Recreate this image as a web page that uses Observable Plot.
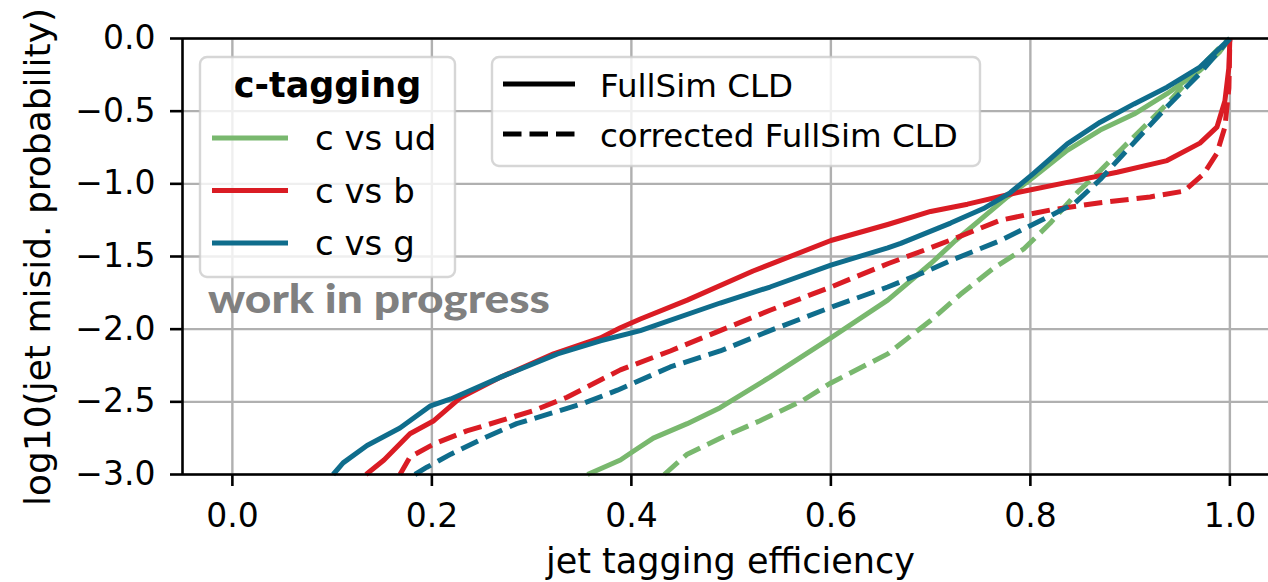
<!DOCTYPE html>
<html>
<head>
<meta charset="utf-8">
<script src="https://cdn.jsdelivr.net/npm/d3@7"></script>
<script src="https://cdn.jsdelivr.net/npm/@observablehq/plot@0.6"></script>
<style>
  body { margin: 0; background: #fff; }
  #chart { width: 1268px; height: 582px; overflow: hidden; }
</style>
</head>
<body>
<div id="chart"></div>
<script>
// ROC curves for c-tagging: efficiency vs log10 of mis-identification probability

const xTicks = [0.0, 0.2, 0.4, 0.6, 0.8, 1.0];
const yTicks = [0.0, -0.5, -1.0, -1.5, -2.0, -2.5, -3.0];

// c vs ud
const effUdFull = [0.356, 0.389, 0.402, 0.422, 0.456, 0.489, 0.539, 0.600, 0.657, 0.700, 0.725, 0.777, 0.803, 0.837, 0.870, 0.904, 0.937, 0.970, 0.990, 1.0];
const misUdFull = [-3.0, -2.90, -2.84, -2.75, -2.65, -2.54, -2.33, -2.06, -1.80, -1.55, -1.39, -1.09, -0.955, -0.77, -0.63, -0.52, -0.38, -0.22, -0.09, 0.0];
const effUdCorr = [0.433, 0.456, 0.489, 0.529, 0.572, 0.600, 0.657, 0.700, 0.730, 0.763, 0.793, 0.820, 0.847, 0.870, 0.890, 0.937, 0.970, 0.990, 1.0];
const misUdCorr = [-3.0, -2.86, -2.75, -2.63, -2.49, -2.37, -2.17, -1.94, -1.76, -1.58, -1.45, -1.27, -1.06, -0.91, -0.77, -0.45, -0.20, -0.06, 0.0];

// c vs b
const effBFull = [0.134, 0.152, 0.178, 0.202, 0.229, 0.269, 0.322, 0.369, 0.389, 0.409, 0.456, 0.522, 0.600, 0.657, 0.700, 0.737, 0.787, 0.837, 0.887, 0.937, 0.970, 0.987, 0.995, 0.999, 1.0];
const misBFull = [-3.0, -2.90, -2.72, -2.63, -2.47, -2.33, -2.17, -2.06, -1.99, -1.93, -1.80, -1.60, -1.39, -1.28, -1.19, -1.14, -1.06, -0.99, -0.92, -0.84, -0.72, -0.61, -0.43, -0.20, 0.0];
const effBCorr = [0.168, 0.178, 0.202, 0.235, 0.269, 0.302, 0.335, 0.369, 0.389, 0.439, 0.489, 0.539, 0.600, 0.657, 0.700, 0.730, 0.770, 0.820, 0.870, 0.920, 0.954, 0.974, 0.987, 0.995, 0.999, 1.0];
const misBCorr = [-3.0, -2.88, -2.79, -2.70, -2.63, -2.56, -2.47, -2.35, -2.28, -2.15, -2.01, -1.87, -1.71, -1.55, -1.44, -1.36, -1.25, -1.18, -1.13, -1.09, -1.05, -0.93, -0.79, -0.61, -0.34, 0.0];

// c vs g
const effGFull = [0.101, 0.111, 0.135, 0.168, 0.198, 0.219, 0.269, 0.326, 0.369, 0.409, 0.489, 0.539, 0.600, 0.657, 0.670, 0.720, 0.753, 0.780, 0.803, 0.837, 0.870, 0.904, 0.937, 0.970, 1.0];
const misGFull = [-3.0, -2.92, -2.80, -2.68, -2.53, -2.48, -2.33, -2.17, -2.08, -2.01, -1.82, -1.71, -1.56, -1.44, -1.41, -1.27, -1.17, -1.06, -0.93, -0.725, -0.576, -0.45, -0.335, -0.197, 0.0];
const effGCorr = [0.183, 0.195, 0.219, 0.252, 0.285, 0.319, 0.352, 0.386, 0.439, 0.489, 0.539, 0.600, 0.657, 0.700, 0.723, 0.770, 0.820, 0.845, 0.870, 0.902, 0.937, 0.970, 0.990, 1.0];
const misGCorr = [-3.0, -2.95, -2.86, -2.75, -2.65, -2.58, -2.51, -2.42, -2.26, -2.15, -2.01, -1.85, -1.71, -1.59, -1.52, -1.39, -1.22, -1.13, -0.97, -0.73, -0.47, -0.24, -0.08, 0.0];

const series = [
  {name: "c vs ud", color: "#79b86e", full: [effUdFull, misUdFull], corr: [effUdCorr, misUdCorr]},
  {name: "c vs b",  color: "#da1c24", full: [effBFull, misBFull],   corr: [effBCorr, misBCorr]},
  {name: "c vs g",  color: "#0f6d8c", full: [effGFull, misGFull],   corr: [effGCorr, misGCorr]}
];

const samples = [
  {name: "FullSim CLD", dash: null},
  {name: "corrected FullSim CLD", dash: "18.5,8"}
];

const rows = ([xs, ys]) => xs.map((x, i) => ({x, y: ys[i]}));

const LW = 5;
const curveMarks = series.flatMap(s => [
  Plot.line(rows(s.full), {x: "x", y: "y", stroke: s.color, strokeWidth: LW, strokeLinejoin: "round", strokeLinecap: "butt"}),
  Plot.line(rows(s.corr), {x: "x", y: "y", stroke: s.color, strokeWidth: LW, strokeLinejoin: "round", strokeLinecap: "butt", strokeDasharray: samples[1].dash})
]);

const fmt = d3.format(".1f");
const gridStyle = {stroke: "#b0b0b0", strokeOpacity: 1, strokeWidth: 2.4};

const plot = Plot.plot({
  width: 1268,
  height: 582,
  marginLeft: 182,
  marginRight: 0,
  marginTop: 38,
  marginBottom: 108,
  style: {fontFamily: "DejaVu Sans", background: "white", color: "black"},
  x: {domain: [-0.05, 1.05], range: [182, 1279.25]},
  y: {domain: [-3, 0], range: [474, 38]},
  marks: [
    Plot.gridX(xTicks, gridStyle),
    Plot.gridY(yTicks, gridStyle),
    ...curveMarks,
    Plot.ruleX([-0.05], {stroke: "black", strokeWidth: 2.6}),
    Plot.ruleY([0, -3], {stroke: "black", strokeWidth: 2.6}),
    Plot.axisX(xTicks, {tickSize: 12, tickPadding: 17, tickFormat: fmt, fontSize: 33, strokeWidth: 2.6, label: null}),
    Plot.axisY(yTicks, {tickSize: 12, tickPadding: 15, tickFormat: fmt, fontSize: 33, strokeWidth: 2.6, label: null})
  ]
});

document.getElementById("chart").appendChild(plot);

const svg = d3.select(plot);
const font = "DejaVu Sans";

// axis titles
svg.append("text")
  .attr("x", 730.5).attr("y", 573)
  .attr("text-anchor", "middle")
  .attr("font-family", font).attr("font-size", 35).attr("fill", "black")
  .text("jet tagging efficiency");

svg.append("text")
  .attr("transform", "translate(50,257) rotate(-90)")
  .attr("text-anchor", "middle")
  .attr("font-family", font).attr("font-size", 36).attr("fill", "black")
  .text("log10(jet misid. probability)");

// watermark
svg.append("text")
  .attr("x", 208).attr("y", 313)
  .attr("text-anchor", "start")
  .attr("font-family", "Lato").attr("font-weight", 900).attr("font-size", 40)
  .attr("fill", "#808080")
  .attr("textLength", 342).attr("lengthAdjust", "spacingAndGlyphs")
  .text("work in progress");

// legend: flavour colours
const lg1 = svg.append("g").attr("text-anchor", "start");
lg1.append("rect")
  .attr("x", 200).attr("y", 57).attr("width", 255).attr("height", 220)
  .attr("rx", 7).attr("fill", "white").attr("fill-opacity", 0.8)
  .attr("stroke", "#cccccc").attr("stroke-opacity", 0.8).attr("stroke-width", 2.4);
lg1.append("text")
  .attr("x", 327.5).attr("y", 97).attr("text-anchor", "middle")
  .attr("font-family", font).attr("font-weight", "bold").attr("font-size", 35)
  .text("c-tagging");
series.forEach((s, i) => {
  const yl = 138 + i * 52.5;
  lg1.append("line")
    .attr("x1", 212).attr("x2", 288).attr("y1", yl).attr("y2", yl)
    .attr("stroke", s.color).attr("stroke-width", LW);
  lg1.append("text")
    .attr("x", 315).attr("y", yl + 12)
    .attr("text-anchor", "start")
    .attr("font-family", font).attr("font-size", 34)
    .text(s.name);
});

// legend: simulation style
const lg2 = svg.append("g").attr("text-anchor", "start");
lg2.append("rect")
  .attr("x", 492).attr("y", 57).attr("width", 488).attr("height", 109)
  .attr("rx", 7).attr("fill", "white").attr("fill-opacity", 0.8)
  .attr("stroke", "#cccccc").attr("stroke-opacity", 0.8).attr("stroke-width", 2.4);
samples.forEach((s, i) => {
  const yl = 84 + i * 50;
  const ln = lg2.append("line")
    .attr("x1", 503).attr("x2", 575).attr("y1", yl).attr("y2", yl)
    .attr("stroke", "black").attr("stroke-width", LW);
  if (s.dash) ln.attr("stroke-dasharray", s.dash);
  lg2.append("text")
    .attr("x", 600).attr("y", yl + 13)
    .attr("text-anchor", "start")
    .attr("font-family", font).attr("font-size", 32.5)
    .text(s.name);
});
</script>
</body>
</html>
